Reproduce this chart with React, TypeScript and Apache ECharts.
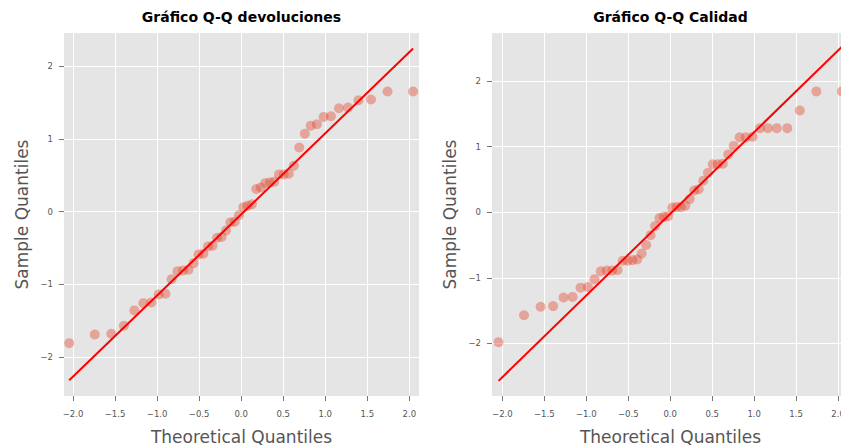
import React, { useEffect, useRef } from "react";
import * as echarts from "echarts";

// Theoretical normal quantiles shared by both samples (48 observations)
const theoreticalQ = [
  -2.045, -1.741, -1.544, -1.395, -1.27, -1.163, -1.068, -0.981, -0.901, -0.827, -0.757, -0.691,
  -0.627, -0.566, -0.507, -0.45, -0.394, -0.34, -0.286, -0.233, -0.18, -0.128, -0.077, -0.026,
  0.026, 0.077, 0.128, 0.18, 0.233, 0.286, 0.34, 0.394, 0.45, 0.507, 0.566, 0.627,
  0.691, 0.757, 0.827, 0.901, 0.981, 1.068, 1.163, 1.27, 1.395, 1.544, 1.741, 2.045,
];

// Ordered sample quantiles: devoluciones
const devolucionesQ = [
  -1.81, -1.69, -1.68, -1.57, -1.36, -1.26, -1.25, -1.14, -1.13, -0.93, -0.82, -0.81,
  -0.8, -0.71, -0.59, -0.58, -0.48, -0.47, -0.36, -0.35, -0.26, -0.15, -0.14, -0.05,
  0.06, 0.08, 0.1, 0.31, 0.33, 0.39, 0.4, 0.41, 0.51, 0.51, 0.52, 0.63,
  0.88, 1.07, 1.18, 1.2, 1.3, 1.31, 1.42, 1.43, 1.53, 1.54, 1.65, 1.65,
];

// Ordered sample quantiles: Calidad
const calidadQ = [
  -1.98, -1.57, -1.44, -1.43, -1.3, -1.29, -1.15, -1.14, -1.02, -0.9, -0.89, -0.89,
  -0.88, -0.74, -0.74, -0.73, -0.72, -0.63, -0.5, -0.35, -0.21, -0.09, -0.07, -0.06,
  0.07, 0.08, 0.08, 0.1, 0.2, 0.33, 0.35, 0.48, 0.6, 0.73, 0.73, 0.74,
  0.88, 1.01, 1.14, 1.14, 1.15, 1.28, 1.28, 1.28, 1.28, 1.55, 1.84, 1.84,
];

// Reference lines (end points)
const refLineX = [-2.045, 2.045];
const devolucionesLineY = [-2.32, 2.24];
const calidadLineY = [-2.57, 2.52];

const xTicks = [-2, -1.5, -1, -0.5, 0, 0.5, 1, 1.5, 2];
const yTicks = [-2, -1, 0, 1, 2];

const titles = ["Gráfico Q-Q devoluciones", "Gráfico Q-Q Calidad"];
const xLabel = "Theoretical Quantiles";
const yLabel = "Sample Quantiles";

const FONT = "DejaVu Sans";
const TEXT_GREY = "#555555";

const minus = (s: string) => s.replace("-", "\u2212");

function pairs(xs: number[], ys: number[]) {
  return xs.map((x, i) => [x, ys[i]]);
}

export default function App() {
  const ref = useRef<HTMLDivElement>(null);

  useEffect(() => {
    document.body.style.margin = "0";
    if (!ref.current) return;
    const chart = echarts.init(ref.current, undefined, { renderer: "svg" });

    const grids = [
      { left: 64, top: 33, width: 355, height: 363 },
      { left: 492, top: 33, width: 357, height: 363 },
    ];
    const xRanges = [
      [-2.107, 2.115],
      [-2.123, 2.13],
    ];
    const yRanges = [
      [-2.536, 2.454],
      [-2.8, 2.73],
    ];

    const xAxis = grids.map((_, i) => ({
      type: "value",
      gridIndex: i,
      min: xRanges[i][0],
      max: xRanges[i][1],
      name: xLabel,
      nameLocation: "middle",
      nameGap: 32,
      nameTextStyle: { fontFamily: FONT, fontSize: 17, color: TEXT_GREY },
      axisLine: { show: false, onZero: false },
      axisTick: { show: true, length: 5, customValues: xTicks, lineStyle: { color: "#777", width: 1 } },
      axisLabel: {
        customValues: xTicks,
        margin: 13,
        fontFamily: FONT,
        fontSize: 8.5,
        color: TEXT_GREY,
        hideOverlap: false,
        formatter: (v: number) => minus(v.toFixed(1)),
      },
      splitLine: { show: true, lineStyle: { color: "#ffffff", width: 1 } },
    }));

    const yAxis = grids.map((_, i) => ({
      type: "value",
      gridIndex: i,
      min: yRanges[i][0],
      max: yRanges[i][1],
      name: yLabel,
      nameLocation: "middle",
      nameGap: 34,
      nameTextStyle: { fontFamily: FONT, fontSize: 17, color: TEXT_GREY },
      axisLine: { show: false, onZero: false },
      axisTick: { show: true, length: 5, customValues: yTicks, lineStyle: { color: "#777", width: 1 } },
      axisLabel: {
        customValues: yTicks,
        margin: 11,
        fontFamily: FONT,
        fontSize: 8.5,
        color: TEXT_GREY,
        formatter: (v: number) => minus(String(Math.round(v))),
      },
      splitLine: { show: true, lineStyle: { color: "#ffffff", width: 1 } },
    }));

    const samples = [devolucionesQ, calidadQ];
    const lines = [devolucionesLineY, calidadLineY];

    const series: any[] = [];
    samples.forEach((s, i) => {
      series.push({
        type: "scatter",
        xAxisIndex: i,
        yAxisIndex: i,
        data: pairs(theoreticalQ, s),
        symbolSize: 10,
        itemStyle: { color: "#E24A33", opacity: 0.42 },
        z: 2,
      });
      series.push({
        type: "line",
        xAxisIndex: i,
        yAxisIndex: i,
        data: pairs(refLineX, lines[i]),
        showSymbol: false,
        symbol: "none",
        lineStyle: { color: "#FF0000", width: 2 },
        z: 3,
      });
    });

    chart.setOption({
      animation: false,
      backgroundColor: "#ffffff",
      graphic: titles.map((t, i) => ({
        type: "text",
        x: grids[i].left + grids[i].width / 2,
        y: 17,
        style: {
          text: t,
          x: 0,
          y: 0,
          align: "center",
          verticalAlign: "middle",
          fontFamily: FONT,
          fontSize: 14,
          fontWeight: "bold",
          fill: "#000",
        },
      })),
      grid: grids.map((g) => ({
        ...g,
        backgroundColor: "#E5E5E5",
        show: true,
        borderWidth: 0,
        containLabel: false,
        outerBoundsMode: "none",
      })),
      xAxis,
      yAxis,
      series,
    });

    return () => chart.dispose();
  }, []);

  return <div ref={ref} style={{ width: 841, height: 448 }} />;
}
